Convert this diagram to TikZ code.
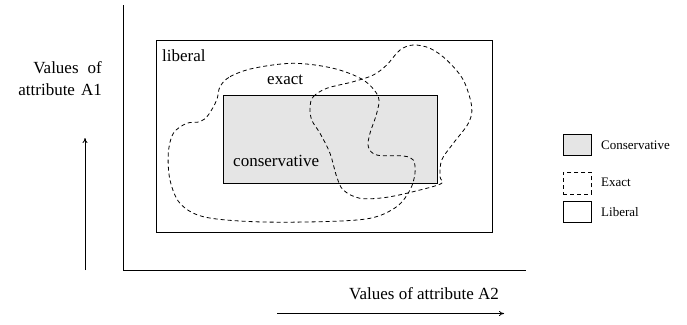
\documentclass[tikz,border=0pt]{standalone}
\usepackage{fontspec}
\setmainfont{Liberation Serif}
\usetikzlibrary{arrows.meta}
\definecolor{consgray}{HTML}{E5E5E5}
\begin{document}
\begin{tikzpicture}[x=1pt,y=-1pt,
  lbl/.style={font=\fontsize{17}{20}\selectfont, inner sep=0pt},
  leg/.style={font=\fontsize{13}{15}\selectfont, inner sep=0pt, anchor=base west},
  region/.style={line width=0.8pt},
  dashreg/.style={line width=0.8pt, dash pattern=on 4pt off 3pt},
  axis/.style={line width=0.9pt},
  dirarrow/.style={line width=0.8pt, -{To[length=5pt,width=5pt]}}]
\useasboundingbox (0,0) rectangle (687,324);
% axes
\coordinate (ytop) at (123,5);
\coordinate (origin) at (123,270);
\coordinate (xend) at (526,270);
\draw[axis] (ytop) -- (origin) -- (xend);
% liberal
\node[region, draw, minimum width=336pt, minimum height=192pt, anchor=north west, inner sep=0pt] (liberal) at (156,40) {};
% conservative
\node[region, draw, fill=consgray, minimum width=214pt, minimum height=88pt, anchor=north west, inner sep=0pt] (cons) at (223,95) {};
% exact curves
\draw[dashreg] plot[smooth cycle, tension=0.55] coordinates {
(220,86.7) (230,76.7) (253.3,68.3) (293.3,63.3) (333.3,68.3) (363.3,80) (378.3,96.7)
(376.7,113.3) (370,133.3) (368.3,146.7) (376.7,155) (403.3,156) (413.3,160) (415,173.3)
(410,190) (396.7,206.7) (370,218.3) (320,221.7) (253.3,221.7) (203.3,216.7) (180,203.3)
(170,180) (168.3,153.3) (173.3,133.3) (186.7,123.3) (200,121.7) (208.3,115) (216.7,100)};
\draw[dashreg] plot[smooth cycle, tension=0.55] coordinates {
(310,106.7) (313.3,96.7) (326.7,88.3) (353.3,81.7) (373.3,75) (386.7,65) (400,50)
(413.3,45) (430,48.3) (446.7,60) (463.3,80) (471.7,106.7) (468.3,123.3) (453.3,143.3)
(441.7,160) (440,176.7) (441.7,183.3) (420,190) (386.7,197.3) (360,198.3) (343.3,190)
(336.7,176.7) (330,153.3) (320,133.3) (311.7,120)};
% region labels
\node[lbl, anchor=base west] (tlib) at (162,61.7) {liberal};
\node[lbl, anchor=base west] (texact) at (267,84) {exact};
\node[lbl, anchor=base west] (tcons) at (233,166.7) {conservative};
% axis labels
\node[lbl, anchor=base east] (yl1) at (102,73.3) {Values\hskip 9pt of};
\node[lbl, anchor=base east] (yl2) at (102,95) {attribute\hskip 6pt A1};
\node[lbl, anchor=base west] (xl) at (349,299) {Values of attribute A2};
% direction arrows
\coordinate (ya0) at (85,270);
\coordinate (ya1) at (85,138);
\draw[dirarrow] (ya0) -- (ya1);
\coordinate (xa0) at (277,313.5);
\coordinate (xa1) at (504,313.5);
\draw[dirarrow] (xa0) -- (xa1);
% legend
\node[region, draw, fill=consgray, minimum width=28pt, minimum height=21.5pt, anchor=north west, inner sep=0pt] (lc) at (563,133.5) {};
\node[dashreg, draw, minimum width=28pt, minimum height=22pt, anchor=north west, inner sep=0pt] (le) at (563,172) {};
\node[region, draw, minimum width=28pt, minimum height=20.5pt, anchor=north west, inner sep=0pt] (ll) at (563,201) {};
\node[leg] (tlc) at (601,149.3) {Conservative};
\node[leg] (tle) at (601,186.7) {Exact};
\node[leg] (tll) at (601,216) {Liberal};
\end{tikzpicture}
\end{document}
